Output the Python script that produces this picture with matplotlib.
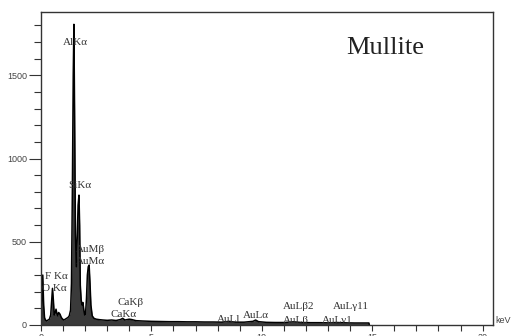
import numpy as np
import matplotlib
matplotlib.use("Agg")
import matplotlib.pyplot as plt
from matplotlib.ticker import MultipleLocator

# EDS spectrum (keV, counts)
energy = [0.00, 0.04, 0.08, 0.12, 0.16, 0.20, 0.26, 0.32, 0.38, 0.44,
          0.48, 0.52, 0.56, 0.60, 0.64, 0.68, 0.72, 0.76, 0.80, 0.86,
          0.92, 0.98, 1.04, 1.10, 1.16, 1.22, 1.28, 1.34, 1.38, 1.42,
          1.46, 1.49, 1.52, 1.56, 1.60, 1.64, 1.68, 1.72, 1.75, 1.78,
          1.82, 1.86, 1.90, 1.94, 1.98, 2.02, 2.06, 2.10, 2.14, 2.18,
          2.22, 2.26, 2.32, 2.40, 2.50, 2.65, 2.80, 3.00, 3.20, 3.40,
          3.60, 3.70, 3.80, 4.00, 4.10, 4.30, 4.60, 5.00, 5.40, 5.80,
          6.20, 6.60, 7.00, 7.40, 7.80, 8.20, 8.50, 8.80, 9.20, 9.60,
          9.72, 9.85, 10.2, 10.6, 11.0, 11.44, 11.8, 12.2, 12.6, 13.0,
          13.4, 13.8, 14.2, 14.6, 14.85, 14.87]
counts = [0, 130, 300, 120, 45, 30, 25, 30, 35, 60,
          140, 220, 150, 60, 70, 95, 70, 55, 75, 65,
          45, 35, 30, 35, 40, 45, 55, 90, 250, 800,
          1500, 1806, 1300, 550, 350, 520, 720, 780, 600, 240,
          150, 120, 135, 90, 60, 75, 160, 300, 350, 360,
          250, 120, 55, 40, 35, 32, 30, 28, 30, 27,
          33, 40, 30, 35, 33, 26, 24, 22, 21, 20,
          20, 19, 19, 18, 18, 17, 22, 17, 17, 22,
          30, 20, 16, 15, 15, 19, 15, 14, 14, 13,
          15, 13, 12, 12, 12, 0]

# peak labels: text, keV, counts (left anchor)
labels = ["AlKα", "SiKα", "AuMβ", "AuMα", "F Kα", "O Kα", "CaKβ", "CaKα",
          "AuLl", "AuLα", "AuLβ2", "AuLβ", "AuLγ11", "AuLγ1"]
label_x = [0.98, 1.22, 1.58, 1.58, 0.18, 0.05, 3.45, 3.13,
           7.98, 9.15, 10.95, 10.95, 13.2, 12.7]
label_y = [1698, 840, 456, 384, 294, 222, 138, 66,
           36, 60, 114, 30, 114, 30]

plt.rcParams['font.family'] = ['Liberation Sans', 'DejaVu Sans']
serif = ['Liberation Serif', 'DejaVu Serif']

fig = plt.figure(figsize=(5.15, 3.36), dpi=100)
ax = fig.add_axes([41 / 515, 11 / 336, 452 / 515, 313 / 336])

ax.fill_between(energy, counts, color="#3a3a3a", lw=0)
ax.plot(energy, counts, color="black", lw=1.1)

ax.set_xlim(0, 20.47)
ax.set_ylim(0, 1880)

ax.xaxis.set_major_locator(MultipleLocator(5))
ax.xaxis.set_minor_locator(MultipleLocator(1))
ax.yaxis.set_major_locator(MultipleLocator(500))
ax.yaxis.set_minor_locator(MultipleLocator(100))
ax.tick_params(which="major", length=9, width=0.8, color="#333333",
               labelsize=6.5, labelcolor="#444444", pad=1)
ax.tick_params(which="minor", length=5, width=0.8, color="#333333")
ax.tick_params(axis="x", which="both", length=4, pad=2)
for s in ax.spines.values():
    s.set_color("#333333")
    s.set_linewidth(1.0)

for t, x, y in zip(labels, label_x, label_y):
    ax.text(x, y, t, fontsize=8, family=serif,
            color="#333333", ha="left", va="center")

ax.text(15.6, 1662, "Mullite", fontsize=19, family=serif,
        color="#222222", ha="center", va="center")
ax.text(1.006, 0.015, "keV", transform=ax.transAxes, fontsize=6.5,
        color="#444444", ha="left", va="center")

fig.savefig("out.png", dpi=100)
